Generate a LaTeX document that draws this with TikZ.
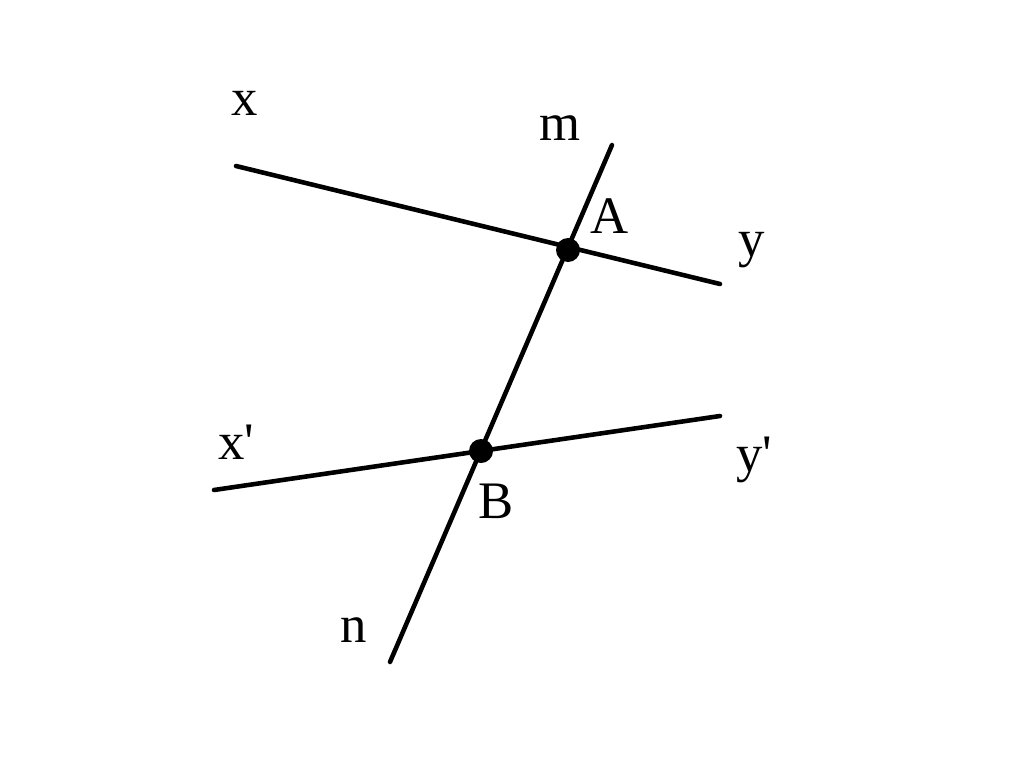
\documentclass[tikz,border=0pt]{standalone}
\usepackage{fontspec}
\setmainfont{Liberation Serif}
\begin{document}
\begin{tikzpicture}[x=0.02cm,y=-0.02cm,line cap=round,line width=2.6pt,font=\fontsize{30}{36}\selectfont]
 \useasboundingbox (0,0) rectangle (1024,774);
 \coordinate (x) at (236,166); \coordinate (y) at (720,284);
 \coordinate (x1) at (214,490); \coordinate (y1) at (720,416);
 \coordinate (m) at (612,145); \coordinate (n) at (390,662);
 \coordinate (A) at (568,250); \coordinate (B) at (481,451);
 \draw (x)--(y) (x1)--(y1) (m)--(n);
 \fill (A) circle (12) (B) circle (12);
 \node (lx) at (245,103) {x};
 \node (ly) at (752,250) {y};
 \node (lx1) at (236,442) {x\textquotesingle};
 \node (ly1) at (754,460) {y\textquotesingle};
 \node (lm) at (560,128) {m};
 \node (ln) at (354,630) {n};
 \node (lA) at (610,216) {A};
 \node (lB) at (496,501) {B};
\end{tikzpicture}
\end{document}
